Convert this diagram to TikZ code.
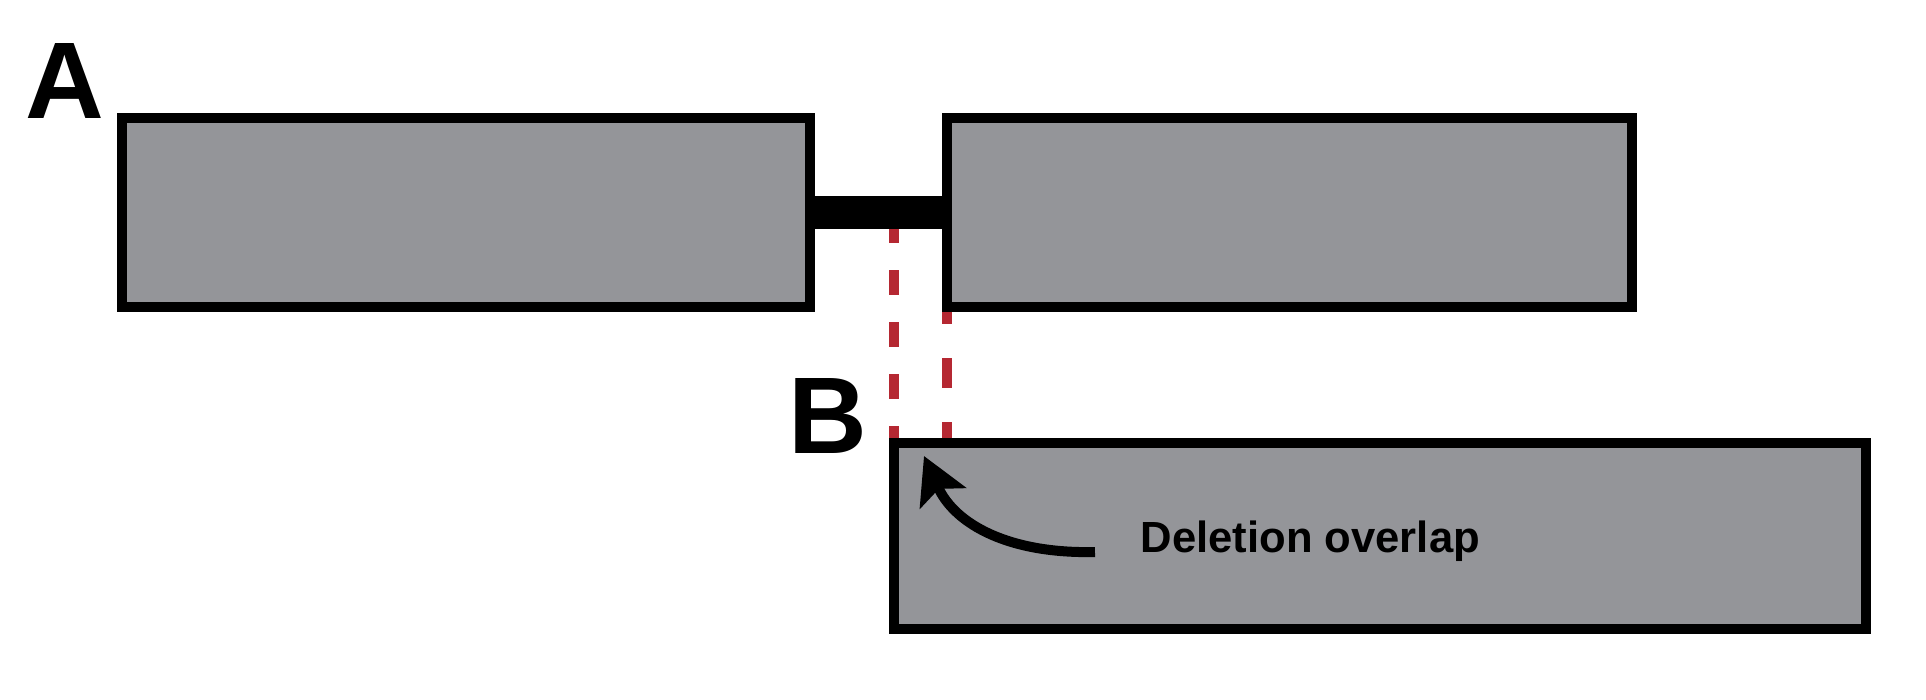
\documentclass[tikz,border=0pt]{standalone}
\usepackage{fontspec}
\setmainfont{Liberation Sans}
\usetikzlibrary{arrows.meta,backgrounds}
\definecolor{segfill}{RGB}{148,149,153}
\definecolor{cutred}{RGB}{181,40,50}

\begin{document}
\begin{tikzpicture}[
  x=0.01cm, y=-0.01cm,
  font=\bfseries,
  seg/.style={draw=black, fill=segfill, line width=0.1cm, inner sep=0pt, outer sep=0pt},
  bar/.style={draw=black, line width=0.33cm},
  cut/.style={draw=cutred, line width=0.1cm},
  ar/.style={-{Stealth[length=0.46cm,width=0.5cm,inset=0.1cm]}, line width=0.1cm},
  tag/.style={anchor=base west, inner sep=0pt, font=\fontsize{31}{31}\selectfont\bfseries},
  lbl/.style={anchor=base west, inner sep=0pt, font=\fontsize{12.4}{14}\selectfont\bfseries},
]
\useasboundingbox (0,0) rectangle (1926,700);

\node[seg, minimum width=6.88cm, minimum height=1.89cm] (left) at (466,212.5) {};
\node[seg, minimum width=6.85cm, minimum height=1.89cm] (right) at (1289.5,212.5) {};
\node[seg, minimum width=9.72cm, minimum height=1.86cm] (del) at (1380,536) {};

\draw[bar] (left.east) -- (right.west);

\begin{scope}[on background layer]
\draw[cut, dash pattern=on 0.25cm off 0.27cm, dash phase=0.08cm] (del.north west) -- (del.north west |- left.east);
\draw[cut, dash pattern=on 0.3cm off 0.34cm, dash phase=0.13cm] (right.south west) -- (right.south west |- del.north);
\end{scope}

\node[tag] (a) at (25,118) {A};
\node[tag] (b) at (788,453) {B};
\node[lbl] (note) at (1140,552) {Deletion overlap};
\coordinate (tip) at (924,456);

\draw[ar] ([xshift=-0.45cm]note.base west) .. controls +(-85,2) and +(31,69) .. (tip);

\end{tikzpicture}
\end{document}
